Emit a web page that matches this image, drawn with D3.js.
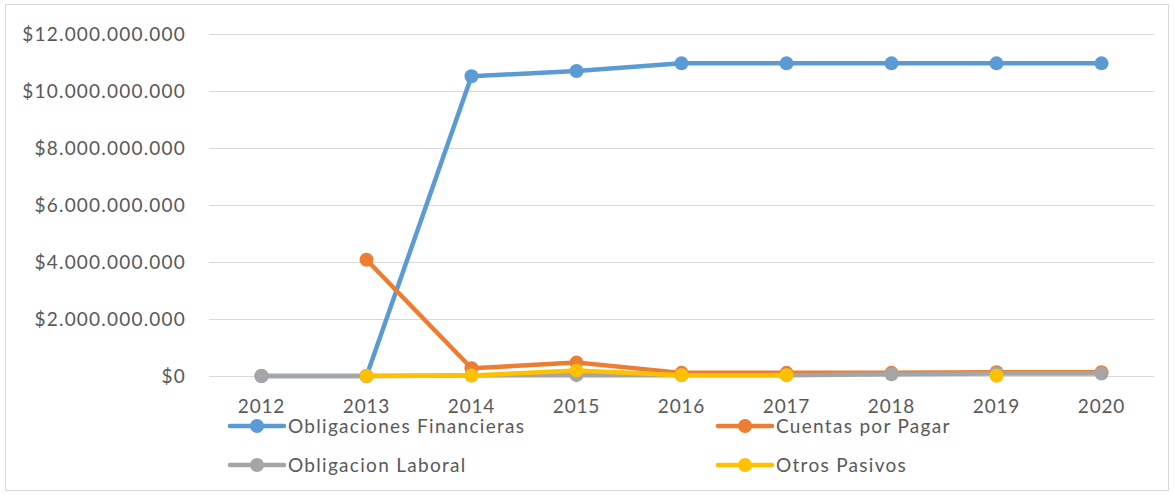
<!DOCTYPE html>
<html>
<head>
<meta charset="utf-8">
<script src="https://cdn.jsdelivr.net/npm/d3@7"></script>
<style>
  body { margin: 0; background: #fff; }
  text { font-family: Lato, "Open Sans", sans-serif; fill: #595959; }
</style>
</head>
<body>
<script>
const years = ["2012","2013","2014","2015","2016","2017","2018","2019","2020"];
const obligacionesFinancieras = [0, 0, 10.52e9, 10.7e9, 10.97e9, 10.97e9, 10.97e9, 10.97e9, 10.97e9];
const cuentasPorPagar = [null, 4.08e9, 0.27e9, 0.47e9, 0.11e9, 0.11e9, 0.11e9, 0.13e9, 0.13e9];
const obligacionLaboral = [0, 0, 0.02e9, 0.03e9, 0.03e9, 0.03e9, 0.06e9, 0.09e9, 0.09e9];
const otrosPasivos = [null, 0, 0.02e9, 0.19e9, 0.03e9, 0.03e9, null, 0.01e9, null];
const yTicks = [0, 2e9, 4e9, 6e9, 8e9, 10e9, 12e9];

const series = [
  {name: "Obligaciones Financieras", values: obligacionesFinancieras, color: "#5B9BD5"},
  {name: "Cuentas por Pagar", values: cuentasPorPagar, color: "#ED7D31"},
  {name: "Obligacion Laboral", values: obligacionLaboral, color: "#A5A5A5"},
  {name: "Otros Pasivos", values: otrosPasivos, color: "#FFC000"}
];

const W = 1174, H = 495;
const svg = d3.select("body").append("svg").attr("width", W).attr("height", H);

svg.append("rect").attr("x", 5.5).attr("y", 4.5).attr("width", 1163).attr("height", 486)
  .attr("fill", "none").attr("stroke", "#D9D9D9");

const x = d3.scaleBand().domain(years).range([209, 1154]);
const y = d3.scaleLinear().domain([0, 12e9]).range([376, 34]);

const loc = d3.formatLocale({decimal: ",", thousands: ".", grouping: [3], currency: ["$", ""]});
const fmt = loc.format("$,.0f");

// grid
svg.append("g").selectAll("line").data(yTicks).join("line")
  .attr("x1", 209).attr("x2", 1154)
  .attr("y1", d => Math.round(y(d)) + 0.5).attr("y2", d => Math.round(y(d)) + 0.5)
  .attr("stroke", "#D9D9D9").attr("stroke-width", 1);

// y labels
svg.append("g").selectAll("text").data(yTicks).join("text")
  .attr("x", 186).attr("y", d => y(d)).attr("dy", "0.35em")
  .attr("text-anchor", "end").style("font-size", "19px").style("letter-spacing", "1.2px")
  .text(d => fmt(d));

// x labels
svg.append("g").selectAll("text").data(years).join("text")
  .attr("x", d => x(d) + x.bandwidth() / 2).attr("y", 413)
  .attr("text-anchor", "middle").style("font-size", "19px").style("letter-spacing", "0.8px")
  .text(d => d);

const line = d3.line()
  .defined(d => d.v !== null)
  .x(d => x(d.year) + x.bandwidth() / 2)
  .y(d => y(d.v));

series.forEach(s => {
  const pts = years.map((yr, i) => ({year: yr, v: s.values[i]}));
  const g = svg.append("g");
  g.append("path").datum(pts).attr("d", line)
    .attr("fill", "none").attr("stroke", s.color).attr("stroke-width", 4.5)
    .attr("stroke-linejoin", "round").attr("stroke-linecap", "round");
  g.selectAll("circle").data(pts.filter(d => d.v !== null)).join("circle")
    .attr("cx", d => x(d.year) + x.bandwidth() / 2).attr("cy", d => y(d.v))
    .attr("r", 7).attr("fill", s.color);
});

// legend
const legPos = [[230, 426], [718, 426], [230, 465], [718, 465]];
series.forEach((s, i) => {
  const [lx, ly] = legPos[i];
  const g = svg.append("g").attr("transform", `translate(${lx},${ly})`);
  g.append("line").attr("x1", 0).attr("x2", 54).attr("y1", 0).attr("y2", 0)
    .attr("stroke", s.color).attr("stroke-width", 4.5).attr("stroke-linecap", "round");
  g.append("circle").attr("cx", 27).attr("cy", 0).attr("r", 7).attr("fill", s.color);
  g.append("text").attr("x", 58).attr("y", 0).attr("dy", "0.35em")
    .style("font-size", "19px").style("letter-spacing", "1.3px").text(s.name);
});
</script>
</body>
</html>
